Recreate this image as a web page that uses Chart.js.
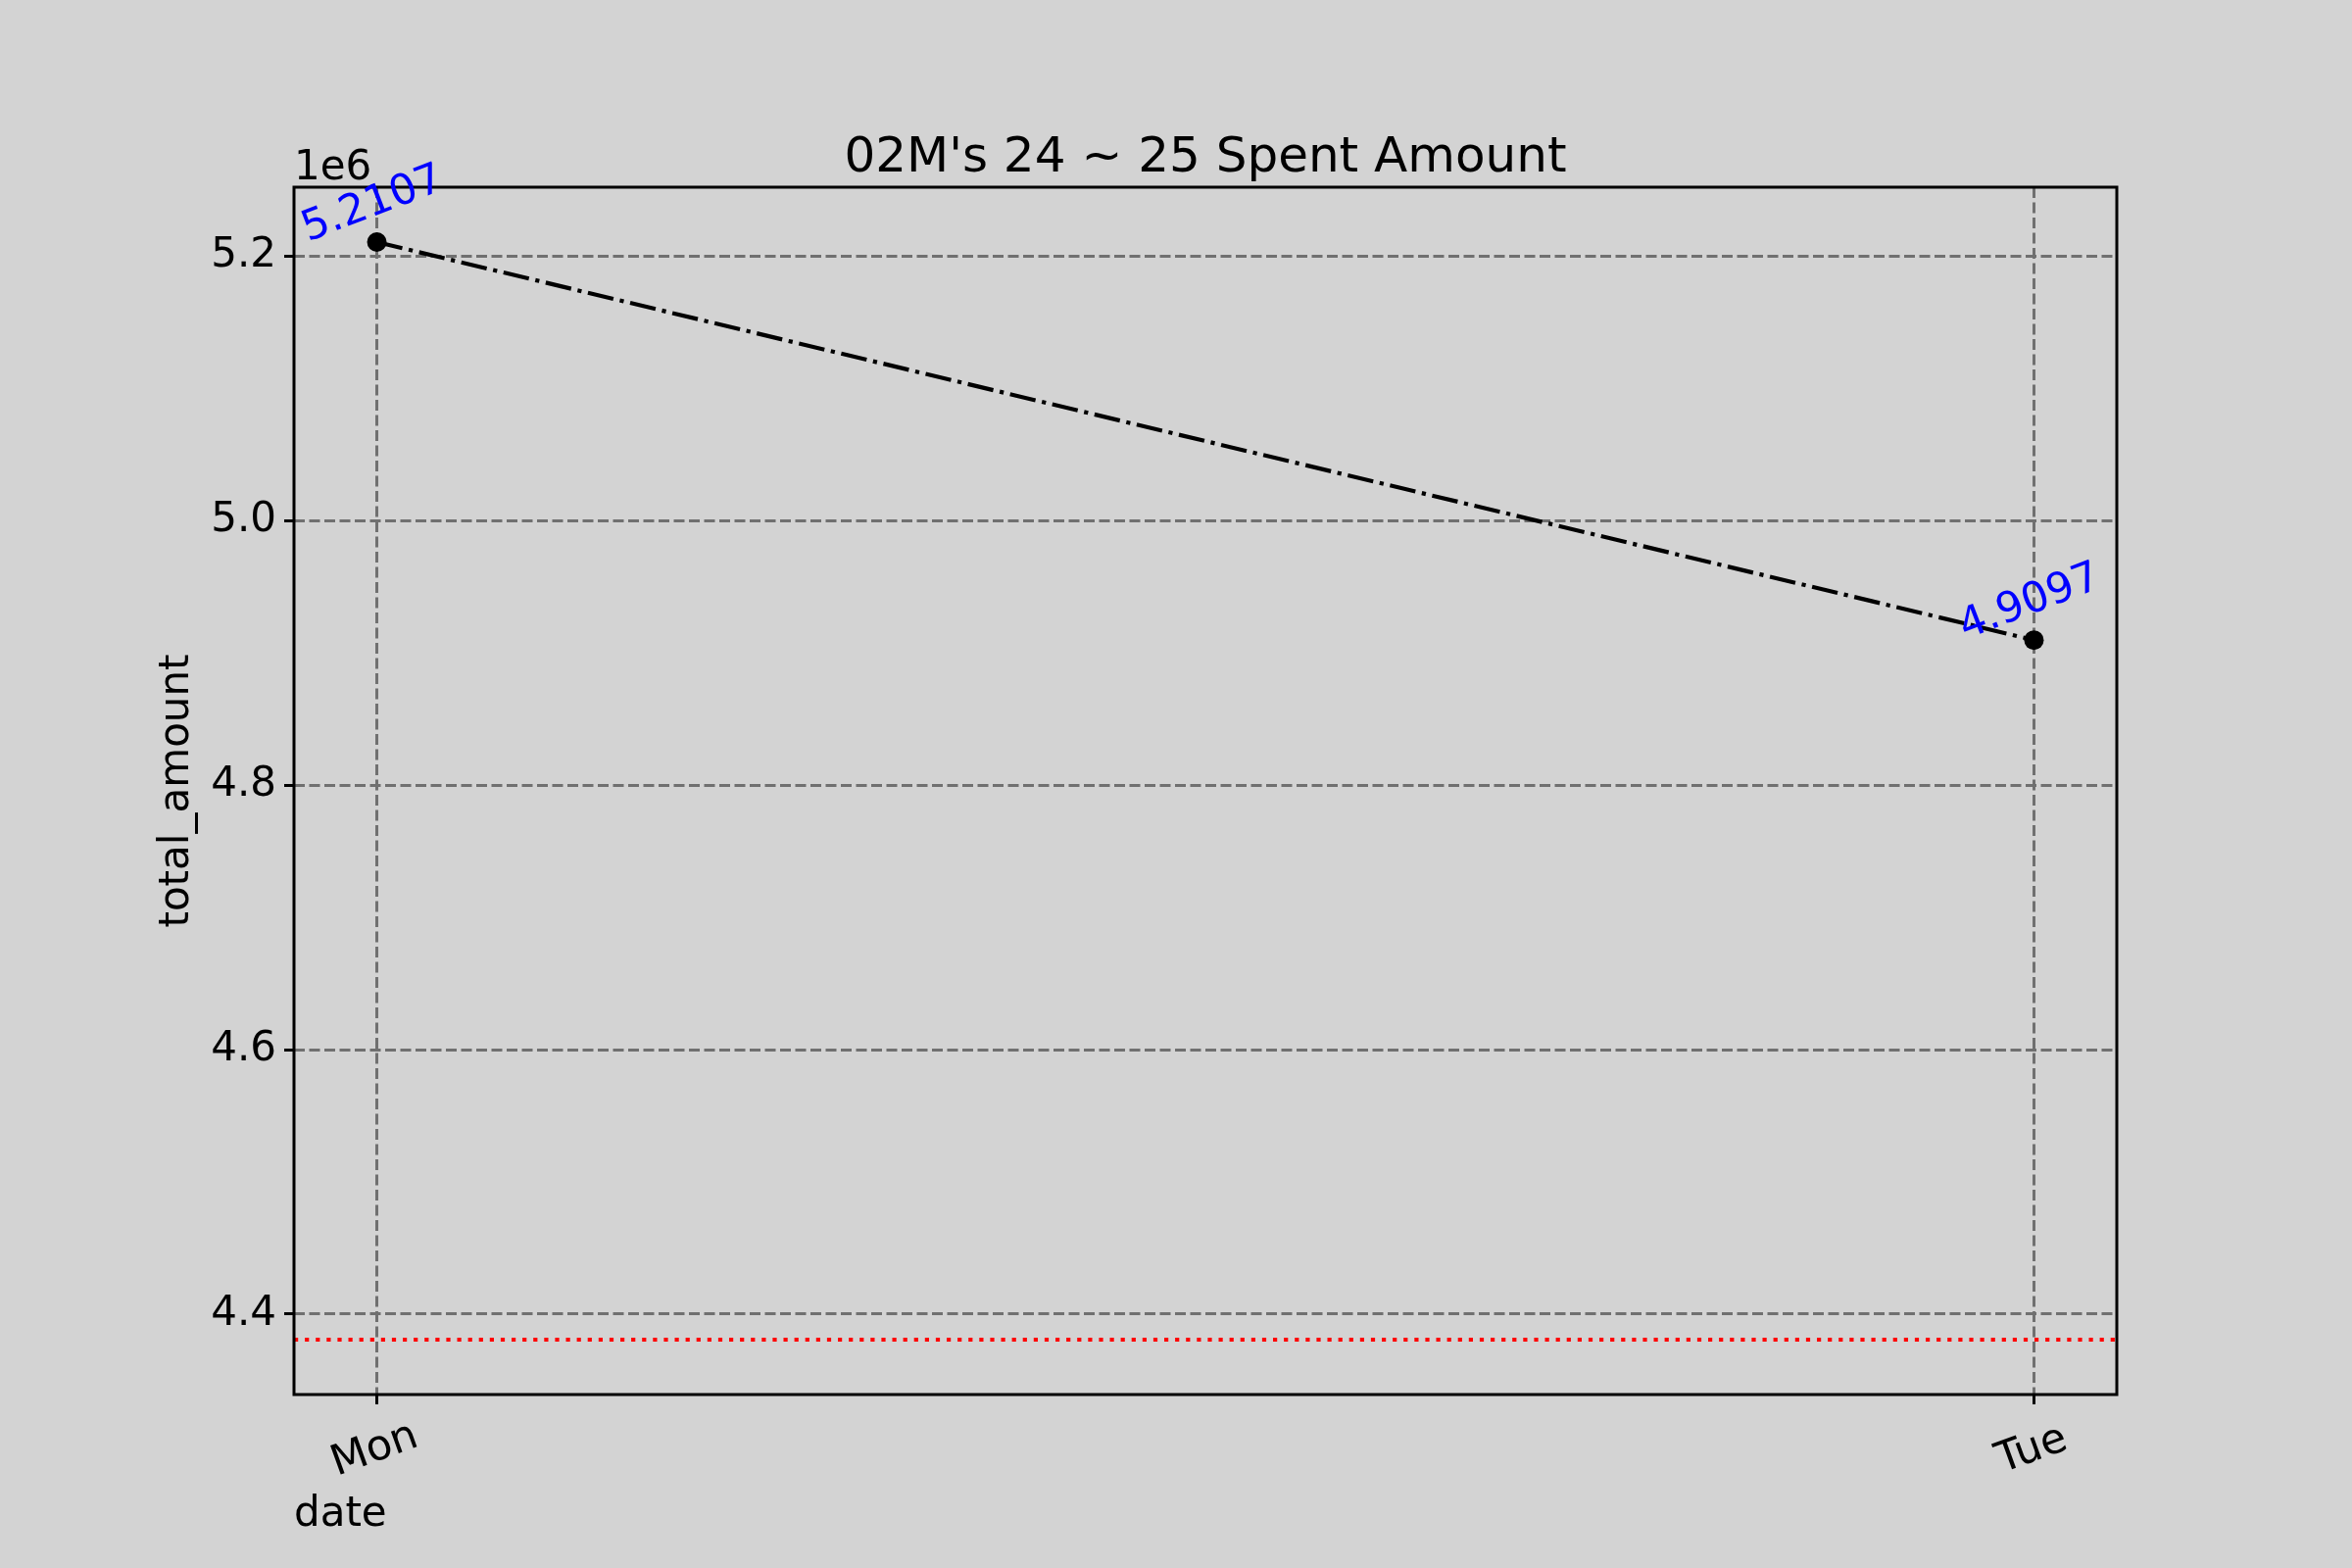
<!DOCTYPE html>
<html>
<head>
<meta charset="utf-8">
<script src="https://cdn.jsdelivr.net/npm/chart.js@4"></script>
<style>
html,body{margin:0;padding:0;background:#d3d3d3;}
#wrap{width:2400px;height:1600px;}
</style>
</head>
<body>
<div id="wrap"><canvas id="c" width="2400" height="1600"></canvas></div>
<script>
// ---- data ----
const categories = ['Mon', 'Tue'];
const totalAmount = [5210700, 4909700];
const annotationLabels = ['5.2107', '4.9097'];
const referenceValue = 4380700;
const yTickValues = [4400000, 4600000, 4800000, 5000000, 5200000];
const titleText = "02M's 24 ~ 25 Spent Amount";
const xLabelText = 'date';
const yLabelText = 'total_amount';
const offsetText = '1e6';

// ---- derived ----
const xMin = -0.05, xMax = categories.length - 1 + 0.05;
const yDataMin = Math.min(referenceValue, ...totalAmount);
const yDataMax = Math.max(referenceValue, ...totalAmount);
const yMargin = (yDataMax - yDataMin) * 0.05;

const FONT = '"DejaVu Sans", sans-serif';
const BG = '#d3d3d3';

const bgPlugin = {
  id: 'bg',
  beforeDraw(chart) {
    const ctx = chart.ctx;
    ctx.save();
    ctx.fillStyle = BG;
    ctx.fillRect(0, 0, chart.width, chart.height);
    ctx.restore();
  }
};

const decorPlugin = {
  id: 'decor',
  afterDraw(chart) {
    const ctx = chart.ctx;
    const a = chart.chartArea;
    const xs = chart.scales.x;
    ctx.save();
    // frame
    ctx.strokeStyle = '#000';
    ctx.lineWidth = 3;
    ctx.strokeRect(a.left, a.top, a.right - a.left, a.bottom - a.top);
    // title
    ctx.fillStyle = '#000';
    ctx.font = '50px ' + FONT;
    ctx.textAlign = 'center';
    ctx.textBaseline = 'alphabetic';
    ctx.fillText(titleText, (a.left + a.right) / 2, 175);
    // offset text
    ctx.font = '42px ' + FONT;
    ctx.textAlign = 'left';
    ctx.fillText(offsetText, a.left, 183);
    // x label
    ctx.fillText(xLabelText, a.left, 1557);
    // y label
    ctx.save();
    ctx.translate(192, (a.top + a.bottom) / 2);
    ctx.rotate(-Math.PI / 2);
    ctx.textAlign = 'center';
    ctx.fillText(yLabelText, 0, 0);
    ctx.restore();
    // x tick labels (rotated, centred)
    ctx.font = '43px ' + FONT;
    categories.forEach((c, i) => {
      const px = xs.getPixelForValue(i);
      ctx.save();
      ctx.translate(px - 2, a.bottom + 57);
      ctx.rotate(-20 * Math.PI / 180);
      ctx.textAlign = 'center';
      ctx.textBaseline = 'middle';
      ctx.fillText(c, 0, 0);
      ctx.restore();
    });
    // annotations
    ctx.font = '43px ' + FONT;
    const meta = chart.getDatasetMeta(1);
    ctx.fillStyle = '#0000ff';
    meta.data.forEach((pt, i) => {
      ctx.save();
      ctx.translate(pt.x - 4, pt.y - 38);
      ctx.rotate(-21 * Math.PI / 180);
      ctx.textAlign = 'center';
      ctx.textBaseline = 'middle';
      ctx.fillText(annotationLabels[i], 0, 0);
      ctx.restore();
    });
    ctx.restore();
  }
};

new Chart(document.getElementById('c'), {
  type: 'line',
  data: {
    datasets: [
      {
        label: 'reference',
        data: [{x: xMin, y: referenceValue}, {x: xMax, y: referenceValue}],
        borderColor: '#ff0000',
        borderWidth: 4.2,
        borderDash: [4.2, 6.9],
        borderCapStyle: 'butt',
        pointRadius: 0,
        fill: false,
        tension: 0
      },
      {
        label: 'total_amount',
        data: totalAmount.map((v, i) => ({x: i, y: v})),
        borderColor: '#000000',
        borderWidth: 4.2,
        borderDash: [26.7, 6.7, 4.2, 6.7],
        borderCapStyle: 'butt',
        pointRadius: 10,
        pointHoverRadius: 10,
        pointBackgroundColor: '#000000',
        pointBorderColor: '#000000',
        pointBorderWidth: 0,
        fill: false,
        tension: 0
      }
    ]
  },
  options: {
    responsive: false,
    devicePixelRatio: 1,
    animation: false,
    events: [],
    layout: { padding: { left: 0, right: 240, top: 191, bottom: 0 } },
    plugins: {
      legend: { display: false },
      title: { display: false },
      tooltip: { enabled: false }
    },
    scales: {
      x: {
        type: 'linear',
        min: xMin,
        max: xMax,
        afterBuildTicks(scale) {
          scale.ticks = categories.map((c, i) => ({value: i}));
        },
        afterFit(scale) { scale.height = 177; },
        ticks: { display: false },
        grid: {
          color: '#707070',
          lineWidth: 3,
          drawTicks: true,
          tickLength: 10,
          tickColor: '#000',
          tickWidth: 3,
          tickBorderDash: []
        },
        border: { display: false, dash: [11, 4.5] }
      },
      y: {
        type: 'linear',
        min: yDataMin - yMargin,
        max: yDataMax + yMargin,
        afterBuildTicks(scale) {
          scale.ticks = yTickValues.map(v => ({value: v}));
        },
        afterFit(scale) { scale.width = 300; },
        ticks: {
          padding: 8,
          color: '#000',
          font: { family: FONT, size: 42 },
          callback: (v) => (v / 1e6).toFixed(1)
        },
        grid: {
          color: '#707070',
          lineWidth: 3,
          drawTicks: true,
          tickLength: 10,
          tickColor: '#000',
          tickWidth: 3,
          tickBorderDash: []
        },
        border: { display: false, dash: [11, 4.5] }
      }
    }
  },
  plugins: [bgPlugin, decorPlugin]
});
</script>
</body>
</html>
